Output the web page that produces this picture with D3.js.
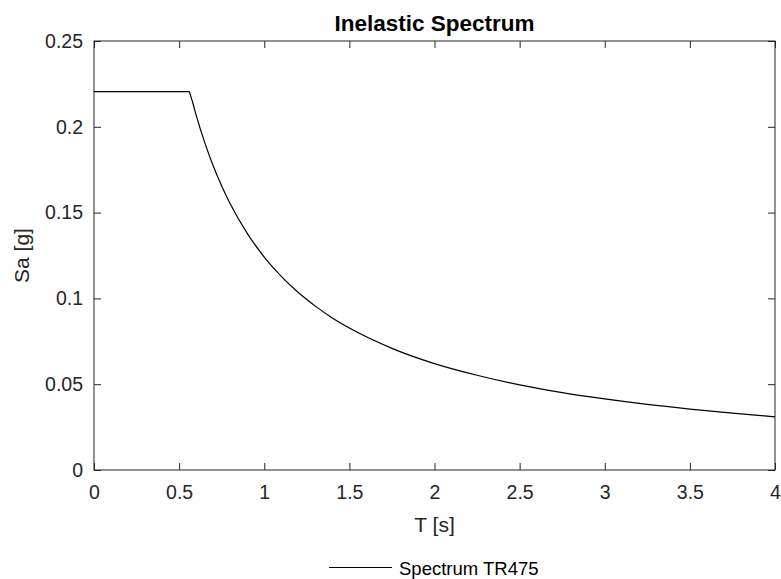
<!DOCTYPE html>
<html>
<head>
<meta charset="utf-8">
<script src="https://cdn.jsdelivr.net/npm/d3@7"></script>
<style>
  body { margin: 0; background: #fff; }
  text { font-family: "Liberation Sans", Arial, sans-serif; fill: #262626; }
</style>
</head>
<body>
<svg></svg>
<script>
const width = 781, height = 579;
const margin = { top: 41, right: 6, bottom: 109, left: 94 };

// readings
const periods = [0, 0.56, 0.58, 0.6, 0.65, 0.7, 0.75, 0.8, 0.9, 1.0, 1.1, 1.2, 1.3, 1.4, 1.5,
    1.75, 2.0, 2.25, 2.5, 2.75, 3.0, 3.25, 3.5, 3.75, 4.0];
const accel = [0.2205, 0.2205, 0.2140, 0.2068, 0.1909, 0.1773, 0.1655, 0.1551, 0.1379, 0.1241,
    0.1128, 0.1034, 0.0955, 0.0886, 0.0827, 0.0709, 0.0620, 0.0552, 0.0496, 0.0451, 0.0414,
    0.0382, 0.0355, 0.0331, 0.0310];
const xTicks = [0, 0.5, 1, 1.5, 2, 2.5, 3, 3.5, 4];
const yTicks = [0, 0.05, 0.1, 0.15, 0.2, 0.25];
const seriesName = "Spectrum TR475";

const svg = d3.select("svg").attr("width", width).attr("height", height);

const x = d3.scaleLinear().domain([0, 4]).range([margin.left, width - margin.right]);
const y = d3.scaleLinear().domain([0, 0.25]).range([height - margin.bottom, margin.top]);

const fmt = d => String(+d.toFixed(2));
const axisColor = "#262626";

// box
svg.append("rect")
    .attr("x", x(0)).attr("y", y(0.25))
    .attr("width", x(4) - x(0)).attr("height", y(0) - y(0.25))
    .attr("fill", "none").attr("stroke", axisColor).attr("stroke-width", 1);

function styleAxis(g) {
    g.select(".domain").remove();
    g.selectAll(".tick line").attr("stroke", axisColor);
    g.selectAll(".tick text").attr("fill", axisColor)
        .style("font-size", "19.5px").style("font-family", "Liberation Sans, Arial, sans-serif");
}

svg.append("g").attr("transform", `translate(0,${y(0)})`)
    .call(d3.axisBottom(x).tickValues(xTicks).tickFormat(fmt).tickSizeInner(-7).tickPadding(15))
    .call(styleAxis);
svg.append("g").attr("transform", `translate(0,${y(0.25)})`)
    .call(d3.axisTop(x).tickValues(xTicks).tickFormat("").tickSizeInner(-7))
    .call(styleAxis);
svg.append("g").attr("transform", `translate(${x(0)},0)`)
    .call(d3.axisLeft(y).tickValues(yTicks).tickFormat(fmt).tickSizeInner(-7).tickPadding(11))
    .call(styleAxis);
svg.append("g").attr("transform", `translate(${x(4)},0)`)
    .call(d3.axisRight(y).tickValues(yTicks).tickFormat("").tickSizeInner(-7))
    .call(styleAxis);

// curve: flat plateau, then smooth decay
const data = periods.map((t, i) => [t, accel[i]]);
const lineFlat = d3.line().x(d => x(d[0])).y(d => y(d[1]));
const lineSmooth = d3.line().x(d => x(d[0])).y(d => y(d[1])).curve(d3.curveMonotoneX);
const path = lineFlat(data.slice(0, 2)) + lineSmooth(data.slice(1)).replace(/^M/, "L");
svg.append("path")
    .attr("fill", "none").attr("stroke", "#000").attr("stroke-width", 1.2)
    .attr("stroke-linejoin", "round")
    .attr("d", path);

// title and labels
const cx = (x(0) + x(4)) / 2;
svg.append("text").attr("x", cx).attr("y", 31).attr("text-anchor", "middle")
    .style("font-size", "22.5px").style("font-weight", "bold").style("fill", "#000")
    .text("Inelastic Spectrum");
svg.append("text").attr("x", cx).attr("y", 532).attr("text-anchor", "middle")
    .style("font-size", "21px").text("T [s]");
svg.append("text").attr("transform", `translate(29,${(y(0) + y(0.25)) / 2}) rotate(-90)`)
    .attr("text-anchor", "middle").style("font-size", "21px").text("Sa [g]");

// legend
svg.append("line").attr("x1", 329).attr("x2", 392).attr("y1", 567.5).attr("y2", 567.5)
    .attr("stroke", "#000").attr("stroke-width", 1.2);
svg.append("text").attr("x", 399).attr("y", 574.5)
    .style("font-size", "18.5px").style("fill", "#000").text(seriesName);
</script>
</body>
</html>
